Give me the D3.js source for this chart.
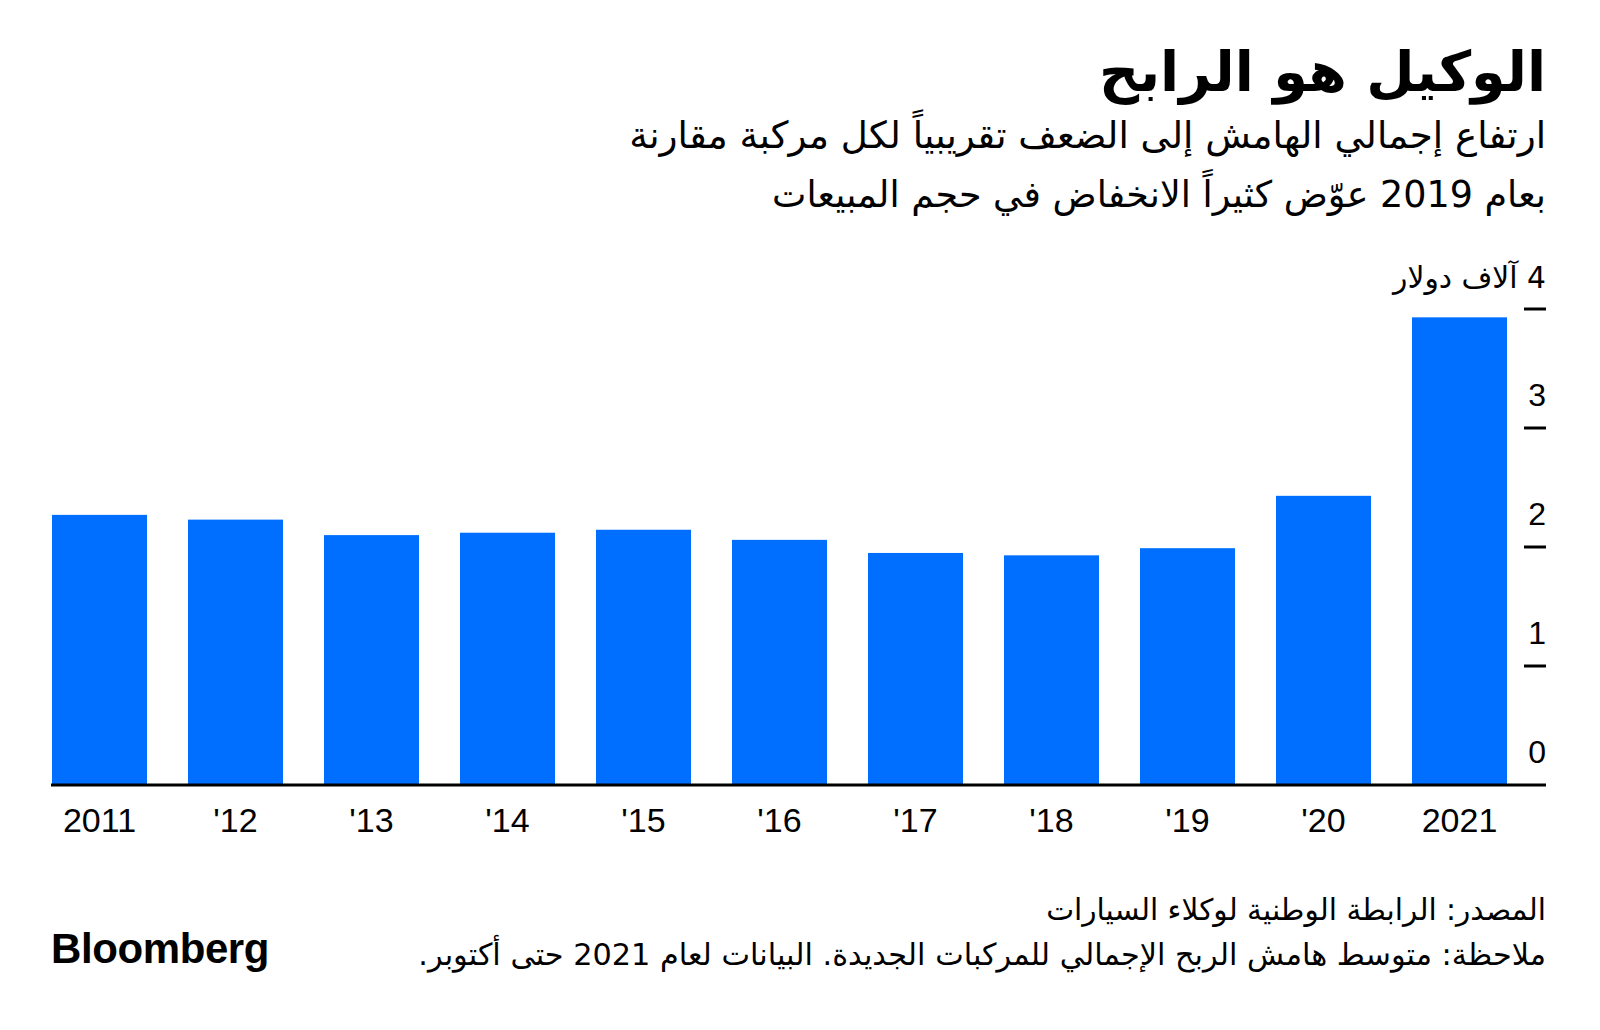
<!DOCTYPE html>
<html><head><meta charset="utf-8">
<script src="https://cdn.jsdelivr.net/npm/d3@7"></script>
<style>
html,body{margin:0;padding:0;background:#fff;}
svg{display:block;}
.ar{font-family:"DejaVu Sans",sans-serif;}
.lat{font-family:"Liberation Sans",Arial,sans-serif;}
</style></head>
<body>
<script>
const years = ["2011","'12","'13","'14","'15","'16","'17","'18","'19","'20","2021"];
const margins = [2.27, 2.23, 2.10, 2.12, 2.145, 2.06, 1.95, 1.93, 1.99, 2.43, 3.93];
const yTicks = [0, 1, 2, 3, 4];
const yTickLabels = ["0", "1", "2", "3", "4 آلاف دولار"];
const title = "الوكيل هو الرابح";
const subtitle = ["ارتفاع إجمالي الهامش إلى الضعف تقريبياً لكل مركبة مقارنة",
                  "بعام 2019 عوّض كثيراً الانخفاض في حجم المبيعات"];
const footer = ["المصدر: الرابطة الوطنية لوكلاء السيارات",
                "ملاحظة: متوسط هامش الربح الإجمالي للمركبات الجديدة. البيانات لعام 2021 حتى أكتوبر."];

const W = 1600, H = 1030, R = 1546;
const svg = d3.select("body").append("svg").attr("width", W).attr("height", H);

const x = d3.scaleBand().domain(years).range([52, 1507]).paddingInner(0.3015).paddingOuter(0);
const y = d3.scaleLinear().domain([0, 4]).range([785, 309]);

function rtlText(txt, yy, size, weight, targetW) {
  const t = svg.append("text").attr("class", "ar")
    .attr("x", R).attr("y", yy)
    .attr("direction", "rtl").style("direction", "rtl")
    .attr("text-anchor", "start")
    .attr("font-size", size).attr("font-weight", weight).attr("fill", "#000")
    .text(txt);
  if (targetW) {
    const w = t.node().getComputedTextLength();
    t.attr("font-size", size * targetW / w);
  }
  return t;
}

rtlText(title, 91, 58, "bold", 447);
rtlText(subtitle[0], 148, 32, "normal", 917);
rtlText(subtitle[1], 207, 32, "normal", 774);

// bars
svg.append("g").selectAll("rect").data(margins).join("rect")
  .attr("x", (d, i) => x(years[i]))
  .attr("width", x.bandwidth())
  .attr("y", d => y(d))
  .attr("height", d => y(0) - y(d))
  .attr("fill", "#006fff");

// y ticks
svg.append("g").selectAll("line").data(yTicks.filter(d => d > 0)).join("line")
  .attr("x1", 1524).attr("x2", R)
  .attr("y1", d => y(d)).attr("y2", d => y(d))
  .attr("stroke", "#000").attr("stroke-width", 3);

// baseline
svg.append("line").attr("x1", 51).attr("x2", R).attr("y1", y(0)).attr("y2", y(0))
  .attr("stroke", "#000").attr("stroke-width", 3);

// y tick labels
yTicks.forEach((d, i) => {
  if (i === yTicks.length - 1) {
    rtlText(yTickLabels[i], y(d) - 21, 27, "normal", 153);
  } else {
    svg.append("text").attr("class", "lat")
      .attr("x", R).attr("y", y(d) - 22)
      .attr("text-anchor", "end").attr("font-size", 32).attr("fill", "#000")
      .text(yTickLabels[i]);
  }
});

// x labels
svg.append("g").selectAll("text").data(years).join("text")
  .attr("class", "lat")
  .attr("x", d => x(d) + x.bandwidth() / 2)
  .attr("y", 832)
  .attr("text-anchor", "middle").attr("font-size", 34).attr("fill", "#000")
  .text(d => d);

// footer
rtlText(footer[0], 920, 26, "normal", 500);
rtlText(footer[1], 965, 26, "normal", 1128);

svg.append("text").attr("class", "lat")
  .attr("x", 51).attr("y", 963)
  .attr("font-size", 42).attr("font-weight", "bold").attr("letter-spacing", -0.4)
  .attr("fill", "#000")
  .text("Bloomberg");
</script>
</body></html>
